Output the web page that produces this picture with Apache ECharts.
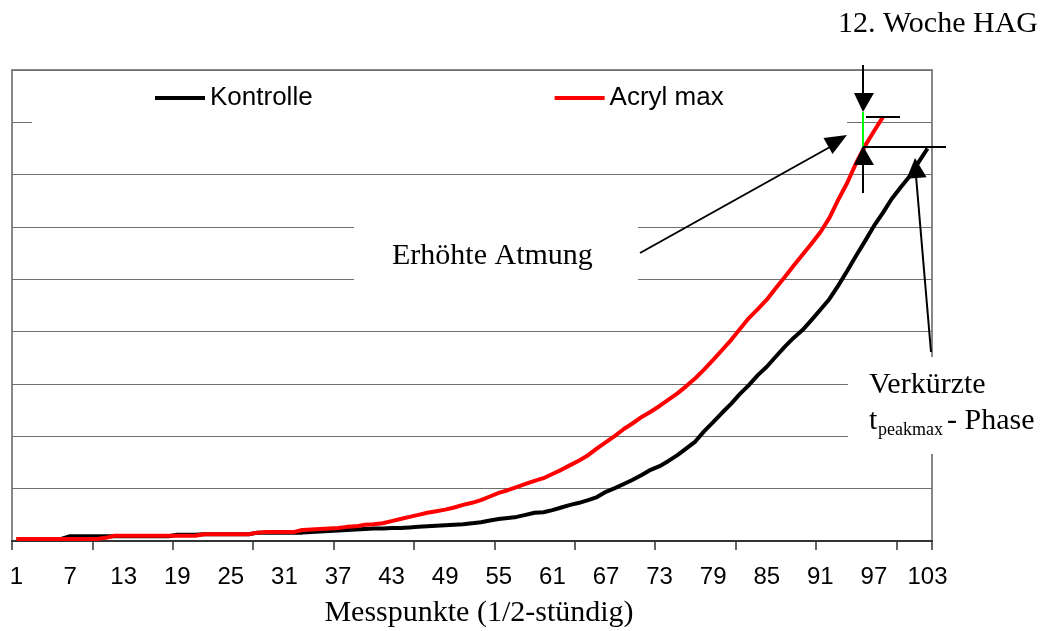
<!DOCTYPE html>
<html><head><meta charset="utf-8">
<script src="https://cdn.jsdelivr.net/npm/echarts@6/dist/echarts.min.js"></script>
<style>html,body{margin:0;padding:0;background:#fff}#c{width:1042px;height:631px}</style>
</head><body><div id="c"></div>
<script>
const categories = ['1','2','3','4','5','6','7','8','9','10','11','12','13','14','15','16','17','18','19','20',
'21','22','23','24','25','26','27','28','29','30','31','32','33','34','35','36','37','38','39','40',
'41','42','43','44','45','46','47','48','49','50','51','52','53','54','55','56','57','58','59','60',
'61','62','63','64','65','66','67','68','69','70','71','72','73','74','75','76','77','78','79','80',
'81','82','83','84','85','86','87','88','89','90','91','92','93','94','95','96','97','98','99','100',
'101','102','103'];

const kontrolle = [0.04,0.04,0.04,0.04,0.04,0.04,
 0.09,0.09,0.09,0.09,0.09,0.09,0.09,0.09,0.09,0.09,0.09,0.09,
 0.12,0.12,0.12,
 0.13,0.13,0.13,0.13,0.13,0.13,
 0.16,0.16,0.16,0.16,0.16,0.16,
 0.17,0.18,0.19,0.20,0.21,0.22,0.23,0.24,0.24,0.25,
 0.25,0.26,0.27,0.28,0.29,0.30,0.31,0.32,0.34,0.36,
 0.39,0.42,0.44,0.46,0.50,0.54,0.55,0.59,0.64,0.69,
 0.73,0.78,0.84,0.94,1.01,1.09,1.17,1.26,1.36,1.43,
 1.53,1.64,1.77,1.90,2.10,2.27,2.45,2.62,2.81,2.98,
 3.17,3.33,3.52,3.71,3.88,4.03,4.22,4.42,4.62,4.88,
 5.16,5.45,5.73,6.02,6.27,6.54,6.76,6.97,7.24,7.50];

const acrylMax = [0.04,0.04,0.04,0.04,0.04,0.04,0.04,0.04,0.04,0.04,
 0.06,
 0.10,0.10,0.10,0.10,0.10,0.10,0.10,0.10,0.10,0.10,
 0.13,0.13,0.13,0.13,0.13,0.13,
 0.16,
 0.17,0.17,0.17,0.17,
 0.21,0.22,0.23,0.24,0.25,0.27,0.28,0.31,0.32,0.34,
 0.38,0.42,0.46,0.50,0.54,0.57,0.60,0.64,0.69,0.73,
 0.78,0.85,0.92,0.97,1.03,1.09,1.15,1.20,1.28,1.36,
 1.45,1.54,1.64,1.77,1.89,2.01,2.14,2.25,2.37,2.47,
 2.58,2.70,2.82,2.96,3.11,3.28,3.46,3.65,3.84,4.05,
 4.26,4.43,4.61,4.83,5.04,5.26,5.47,5.68,5.90,6.17,
 6.52,6.84,7.22,7.55,7.83,8.10];

const seriesNames = ['Kontrolle', 'Acryl max'];
const titleText = '12. Woche HAG';
const xAxisTitle = 'Messpunkte (1/2-stündig)';
const noteRespiration = 'Erhöhte Atmung';
const notePhase1 = 'Verkürzte';
const notePhaseT = 't';
const notePhaseSub = 'peakmax';
const notePhase2 = '- Phase';

const SERIF = '"Liberation Serif", "DejaVu Serif", serif';
const SANS = '"Liberation Sans", Arial, sans-serif';

const chart = echarts.init(document.getElementById('c'), null, {renderer: 'canvas'});

function line(x1, y1, x2, y2, color, w) {
  return {type: 'line', z: 10, shape: {x1, y1, x2, y2}, style: {stroke: color || '#000', lineWidth: w || 2}};
}
function tri(pts) {
  return {type: 'polygon', z: 10, shape: {points: pts}, style: {fill: '#000'}};
}
function txt(x, y, text, size, align) {
  return {type: 'text', z: 10, x, y, style: {text, font: size + 'px ' + SERIF, fill: '#000', align: align || 'left', verticalAlign: 'middle'}};
}

chart.setOption({
  animation: false,
  backgroundColor: '#fff',
  grid: {left: 12, right: 110, top: 70, bottom: 90, show: true, borderColor: '#888', borderWidth: 2, backgroundColor: 'transparent'},
  legend: {
    data: seriesNames, left: 155, top: 85, padding: 0, itemGap: 242, itemWidth: 50, itemHeight: 4, icon: 'rect',
    textStyle: {fontSize: 26, fontFamily: SANS, color: '#000', padding: [0, 0, 0, 0]}
  },
  xAxis: {
    type: 'category', data: categories, boundaryGap: true,
    axisLine: {lineStyle: {color: '#333', width: 2}},
    axisTick: {show: true, alignWithLabel: false, interval: 8, length: 9, lineStyle: {color: '#333', width: 1.5}},
    axisLabel: {interval: 5, fontSize: 24, fontFamily: SANS, color: '#000', margin: 24},
    splitLine: {show: false}
  },
  yAxis: {
    type: 'value', min: 0, max: 9, interval: 1,
    axisLabel: {show: false}, axisLine: {show: false}, axisTick: {show: false},
    splitLine: {lineStyle: {color: '#707070', width: 1.2}}
  },
  series: [
    {name: seriesNames[0], type: 'line', data: kontrolle, symbol: 'none', lineStyle: {color: '#000', width: 4}, itemStyle: {color: '#000'}},
    {name: seriesNames[1], type: 'line', data: acrylMax, symbol: 'none', lineStyle: {color: '#ff0000', width: 4}, itemStyle: {color: '#ff0000'}}
  ],
  graphic: [
    {type: 'rect', z: 3, shape: {x: 32, y: 72, width: 815, height: 56}, style: {fill: '#fff'}},
    {type: 'rect', z: 3, shape: {x: 354, y: 222, width: 284, height: 62}, style: {fill: '#fff'}},
    {type: 'rect', z: 3, shape: {x: 848, y: 357, width: 194, height: 97}, style: {fill: '#fff'}},
    txt(1038, 24, titleText, 30, 'right'),
    txt(479, 613, xAxisTitle, 30, 'center'),
    txt(392, 256, noteRespiration, 30),
    txt(869, 385, notePhase1, 30),
    txt(869, 421, notePhaseT, 30),
    txt(878, 430, notePhaseSub, 18),
    txt(947, 421, notePhase2, 30),
    line(863, 65, 863, 94),
    tri([[854, 93], [874, 93], [863, 112]]),
    line(863, 112, 863, 147, '#00ff00', 2),
    line(866, 117, 900, 117),
    line(863, 147, 946, 147),
    tri([[863, 146], [854, 165], [874, 165]]),
    line(863, 165, 863, 193),
    line(640, 253, 830, 147),
    tri([[847, 135], [823.5, 138], [832.5, 154]]),
    line(931, 352, 916, 176),
    tri([[915, 158], [906.6, 178.8], [926.6, 177.2]])
  ]
});
</script></body></html>
